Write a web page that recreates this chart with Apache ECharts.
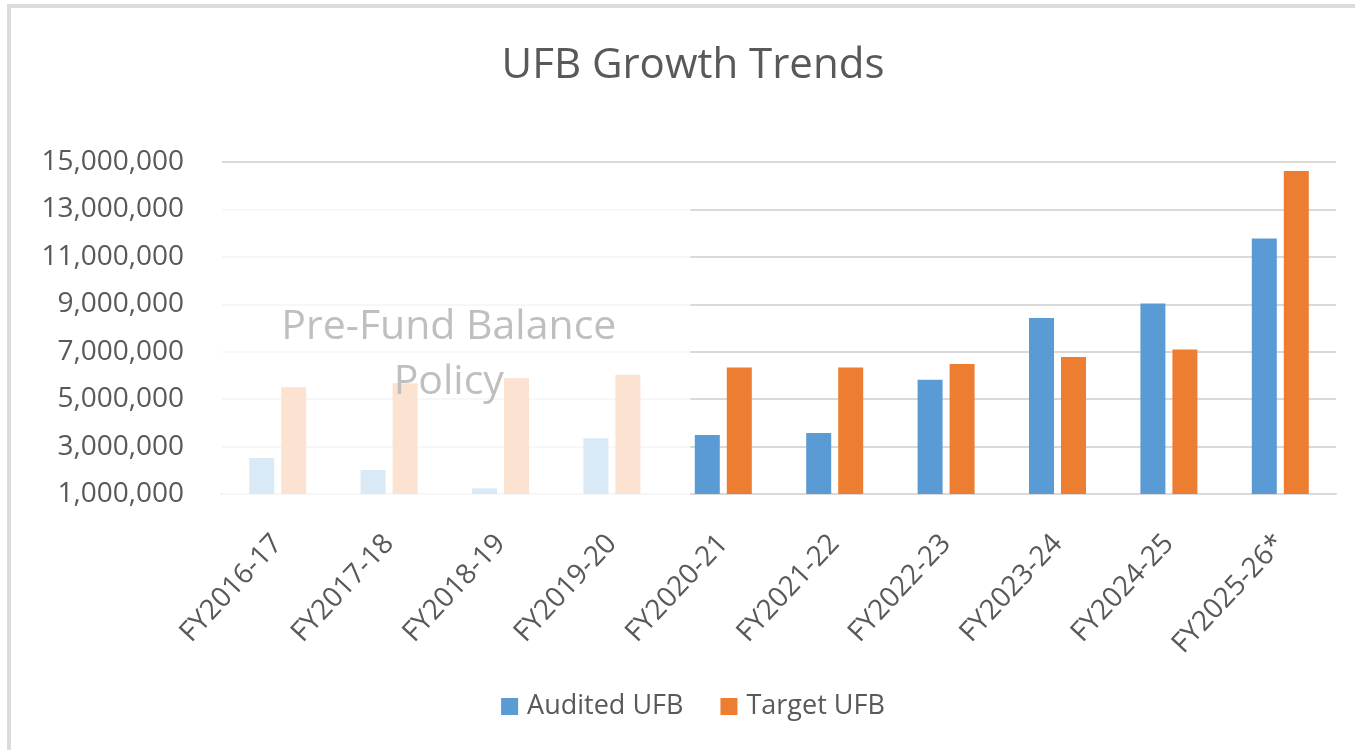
<!DOCTYPE html>
<html>
<head>
    <meta http-equiv="content-type" content="text/html; charset=utf-8">
    <title>UFB Growth Trends</title>
    <script src="https://cdn.jsdelivr.net/npm/echarts@6.0.0/dist/echarts.min.js"></script>
<style type="text/css">
    body,html {
        margin: 0; padding: 0;
        overflow: hidden;
        background: #fff;
    }
    .frame {
        position: absolute;
        left: 7px;
        top: 4px;
        border-left: 4px solid #dcdcdc;
        border-top: 4px solid #dcdcdc;
    }
    #main {
        width: 1364px;
        height: 750px;
    }
</style>
</head>
<body>
    <div class="frame"><div id="main"></div></div>

<script>
    var categories = ['FY2016-17', 'FY2017-18', 'FY2018-19', 'FY2019-20', 'FY2020-21',
                      'FY2021-22', 'FY2022-23', 'FY2023-24', 'FY2024-25', 'FY2025-26*'];
    var audited = [2520000, 2010000, 1240000, 3350000, 3490000, 3570000, 5820000, 8420000, 9030000, 11770000];
    var target  = [5500000, 5670000, 5880000, 6030000, 6330000, 6330000, 6480000, 6780000, 7090000, 14620000];
    var yMin = 1000000, yMax = 15000000, yStep = 2000000;
    var preFundCount = 4;   // first years drawn faded
    var noteText = 'Pre-Fund Balance\nPolicy';

    var font = '"Open Sans", "Noto Sans", sans-serif';
    var chart = echarts.init(document.getElementById('main'));

    var option = {
        backgroundColor: '#fff',
        animation: false,
        title: {
            text: 'UFB Growth Trends',
            left: 'center',
            top: 32,
            textStyle: { color: '#595959', fontSize: 42, fontWeight: 'normal', fontFamily: font }
        },
        legend: {
            left: 'center',
            top: 680,
            itemWidth: 17,
            itemHeight: 17,
            itemGap: 37,
            icon: 'rect',
            textStyle: { color: '#595959', fontSize: 27, fontFamily: font, padding: [0, 0, 0, 4] },
            data: ['Audited UFB', 'Target UFB']
        },
        grid: { left: 211, right: 39, top: 154, bottom: 264, containLabel: false },
        xAxis: {
            type: 'category',
            data: categories,
            axisLine: { lineStyle: { color: '#d9d9d9', width: 2 } },
            axisTick: { show: false },
            axisLabel: { rotate: 47, margin: 45, color: '#595959', fontSize: 28, fontFamily: font, interval: 0 }
        },
        yAxis: {
            type: 'value',
            min: yMin,
            max: yMax,
            interval: yStep,
            axisLine: { show: false },
            axisTick: { show: false },
            splitLine: { lineStyle: { color: '#d9d9d9', width: 2 } },
            axisLabel: {
                margin: 38, color: '#595959', fontSize: 28, fontFamily: font,
                formatter: function (v) { return v.toLocaleString('en-US'); }
            }
        },
        series: [{
            name: 'Audited UFB',
            type: 'bar',
            data: audited,
            barWidth: 25,
            barGap: '28%',
            itemStyle: { color: '#5b9bd5' }
        }, {
            name: 'Target UFB',
            type: 'bar',
            data: target,
            barWidth: 25,
            itemStyle: { color: '#ed7d31' }
        }]
    };
    chart.setOption(option);

    // fade the pre-fund years with a white veil and put the note on top
    function drawVeil() {
        var x0 = chart.convertToPixel({ xAxisIndex: 0 }, 0);
        var x1 = chart.convertToPixel({ xAxisIndex: 0 }, 1);
        var band = x1 - x0;
        var xNext = chart.convertToPixel({ xAxisIndex: 0 }, preFundCount);
        var yTop = chart.convertToPixel({ yAxisIndex: 0 }, yMax);
        var yBot = chart.convertToPixel({ yAxisIndex: 0 }, yMin);
        var left = x0 - band / 2;
        var right = xNext - 33;
        var noteX = (chart.convertToPixel({ xAxisIndex: 0 }, 1) + chart.convertToPixel({ xAxisIndex: 0 }, 2)) / 2 + 4;
        var noteY = yBot - (yBot - yTop) * 0.42;
        chart.setOption({
            graphic: [{
                type: 'rect',
                z: 100,
                shape: { x: left, y: yTop + 2, width: right - left, height: yBot - yTop + 2 },
                style: { fill: 'rgba(255,255,255,0.775)' },
                silent: true
            }, {
                type: 'text',
                z: 101,
                x: noteX,
                y: noteY,
                style: {
                    text: noteText,
                    fill: '#bfbfbf',
                    font: '41px ' + font,
                    lineHeight: 55,
                    align: 'center',
                    verticalAlign: 'middle'
                },
                silent: true
            }]
        });
    }
    drawVeil();
</script>
</body>
</html>
